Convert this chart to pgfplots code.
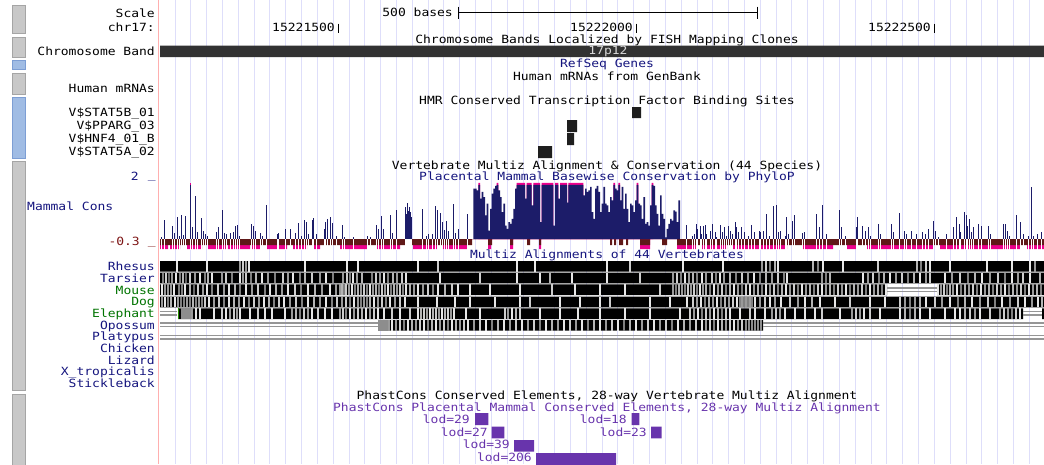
\documentclass[border=0pt]{standalone}
\usepackage{pgfplots}
\pgfplotsset{compat=1.18}
\usepackage{pgfplotstable}
\usepackage{fontspec}
\setmainfont{DejaVu Sans}
\newfontfamily\ucsc[FakeStretch=1.15]{DejaVu Sans Mono}
\newcommand{\lbl}{\ucsc\fontsize{11.3}{13}\selectfont}
\definecolor{gridc}{RGB}{222,222,250}
\definecolor{pinkc}{RGB}{255,175,175}
\definecolor{navyt}{RGB}{20,20,125}
\definecolor{navyb}{RGB}{28,28,105}
\definecolor{greent}{RGB}{0,115,0}
\definecolor{purp}{RGB}{104,52,172}
\definecolor{brownn}{RGB}{96,24,24}
\definecolor{redt}{RGB}{125,20,20}
\definecolor{btngray}{RGB}{200,200,200}
\definecolor{btngrayd}{RGB}{165,165,165}
\definecolor{btnblue}{RGB}{160,188,228}
\definecolor{btnblued}{RGB}{125,158,212}
\definecolor{bandc}{RGB}{50,50,50}
\definecolor{tfc}{RGB}{30,30,30}
\definecolor{dblc}{RGB}{150,150,150}
\newcommand{\rect}[5]{\addplot[#5] coordinates {(#1,#3) (#2,#3) (#2,#4) (#1,#4) (#1,#3)};}
\pgfplotsset{stripe/.style={scatter, only marks, mark=|, mark size=5.3pt, point meta=explicit,
     scatter/use mapped color={draw=mapped color, fill=mapped color},
     mark options={line width=1.05pt}}}

% PhyloP spikes (pixel x, value)
\pgfplotstableread[row sep=\\]{x v\\
161.7 0.08\\ 164.3 0.69\\ 172.7 0.46\\ 174 0.22\\ 177.3 0.78\\ 179 0.12\\ 181.7 0.84\\ 183.3 0.14\\ 185.7 0.81\\ 190.7 1.93\\
192.3 0.42\\ 195.7 1.53\\ 197.3 0.26\\ 201.3 0.74\\ 203.3 0.30\\ 205.7 0.18\\ 207.3 0.10\\ 216.7 0.26\\ 218.7 0.42\\ 222 1.02\\
224.3 0.20\\ 226.7 0.18\\ 230 0.22\\ 233.7 0.24\\ 235 0.46\\ 237.3 0.50\\ 239 0.12\\ 251.3 0.54\\ 253.3 0.48\\ 255.7 0.30\\
260 0.22\\ 262 0.10\\ 266.7 1.22\\ 277 0.19\\ 278.7 0.23\\ 285.7 0.34\\ 290 0.36\\ 295 0.22\\ 298.7 0.57\\ 301.7 0.12\\
304.3 0.69\\ 306 0.62\\ 308.7 0.17\\ 312 0.68\\ 313.7 0.74\\ 316 0.17\\ 324 0.36\\ 325.7 0.60\\ 327.7 0.72\\ 330 0.80\\
332.7 0.57\\ 336.7 0.12\\ 342 0.50\\ 344.3 0.08\\ 353.3 0.06\\ 367.3 0.10\\ 370 0.08\\ 376.7 0.50\\ 378.7 0.34\\ 381.3 0.81\\
383.3 0.34\\ 390 0.87\\ 392.3 0.22\\ 396.7 1.02\\ 405.7 1.14\\ 406.7 0.90\\ 407.7 1.29\\ 408.7 1.00\\ 409.7 1.14\\ 410.7 0.95\\
411.7 0.78\\ 422.3 1.08\\ 426.7 0.10\\ 428.3 0.18\\ 432.7 0.18\\ 435.3 1.17\\ 437 1.05\\ 440 0.93\\ 442 0.60\\ 444 0.32\\
446 0.66\\ 448.7 0.30\\ 453.3 1.26\\ 455 0.20\\ 458.3 0.36\\ 467 0.90\\
686.7 0.50\\ 692.7 0.12\\ 694 0.18\\ 696 0.54\\ 697.7 0.36\\ 700 0.48\\ 701.7 0.18\\ 703.3 0.48\\ 705 0.50\\ 706.7 0.18\\
710.7 0.30\\ 712.3 0.54\\ 715 0.24\\ 716.7 0.06\\ 720.7 0.50\\ 722.7 0.24\\ 724 0.42\\ 726 0.12\\ 728.3 0.46\\ 730.7 0.30\\
732.7 0.18\\ 735 0.60\\ 736.7 0.42\\ 738.3 0.24\\ 741.7 0.42\\ 744 0.24\\ 748.3 0.12\\ 751.7 0.50\\ 754 0.24\\ 759 0.30\\
760.7 0.24\\ 763.3 0.30\\ 766.7 0.90\\ 769 0.12\\ 773.3 1.17\\ 776.7 1.20\\ 778.3 0.24\\ 780 0.30\\ 785 0.12\\ 786.7 0.80\\
788.3 0.18\\ 792.7 0.66\\ 794 0.84\\ 802.3 0.22\\ 804 0.24\\ 816.7 0.90\\ 819 0.42\\ 822.7 1.20\\ 826.7 0.18\\ 839.3 1.02\\
841.7 0.42\\ 845.7 0.12\\ 856 0.42\\ 857.3 0.78\\ 862.7 0.48\\ 865 0.30\\ 868.3 0.42\\ 870.7 0.12\\ 878.3 0.54\\ 880 0.18\\
891.7 0.54\\ 893.3 0.24\\ 899.3 0.93\\ 904.3 0.30\\ 906.7 0.18\\ 911.7 0.30\\ 916.7 0.18\\ 922.7 0.24\\ 925 0.18\\ 928.3 0.36\\
933.3 0.66\\ 935 0.30\\ 938.3 0.06\\ 946.7 0.18\\ 953.3 0.42\\ 956.7 0.78\\ 959.3 0.54\\ 960.7 0.24\\ 964 0.96\\ 966 0.84\\
967.3 0.48\\ 969.3 0.72\\ 971.7 0.24\\ 973.3 0.42\\ 978.3 0.54\\ 981.7 0.48\\ 988.3 0.48\\ 990 0.18\\ 1003.3 0.54\\ 1005 0.54\\
1007.3 0.30\\ 1009.3 0.12\\ 1016 0.84\\ 1020.7 0.62\\ 1023.3 0.18\\ 1028.3 0.12\\ 1031.7 1.86\\ 1033.3 0.10\\ 1037.3 0.18\\ 1041.7 0.24\\
}\spikes

% PhyloP dense block (interval start x, value)
\pgfplotstableread[row sep=\\]{x v\\
473.3 1.80\\ 476.7 1.74\\ 478.3 1.93\\ 480 1.44\\ 481.7 1.68\\ 483.3 1.50\\ 485 0.84\\ 486.7 1.26\\ 488.3 0.30\\ 490 1.08\\
491.7 1.62\\ 493.3 1.80\\ 495 1.90\\ 496.7 1.93\\ 498.3 1.74\\ 500 1.50\\ 501.7 0.96\\ 503.3 1.26\\ 505 0.48\\ 506.7 0.36\\
508.3 0.60\\ 510 0.54\\ 511.7 0.72\\ 513.3 1.08\\ 515 1.80\\ 516.7 1.93\\ 525 1.44\\ 526.7 1.93\\ 531.7 1.20\\ 533.3 1.93\\
540 0.60\\ 541.7 1.93\\ 553.3 0.48\\ 555 1.93\\ 558.3 1.44\\ 560 1.93\\ 567 1.30\\ 568.3 1.93\\ 583.3 1.56\\ 585 1.80\\
586.7 1.68\\ 588.3 1.74\\ 590 1.86\\ 591.7 0.96\\ 593.3 0.72\\ 595 1.80\\ 596.7 1.90\\ 598.3 1.68\\ 600 0.96\\ 601.7 1.26\\
603.3 1.86\\ 605 1.26\\ 606.7 1.20\\ 608.3 0.96\\ 610 1.50\\ 611.7 1.38\\ 613.3 1.93\\ 615 1.80\\ 616.7 1.74\\ 618.3 1.93\\
620 1.38\\ 621.7 1.86\\ 623.3 1.08\\ 625 1.62\\ 626.7 1.08\\ 628.3 0.60\\ 630 1.26\\ 631.7 1.20\\ 633.3 0.96\\ 635 1.38\\
636.7 1.93\\ 638.3 1.26\\ 640 1.20\\ 641.7 0.72\\ 643.3 1.50\\ 645 0.54\\ 646.7 0.60\\ 648.3 0.48\\ 650 1.20\\ 651.7 1.93\\
653.3 1.90\\ 655 1.20\\ 656.7 0.90\\ 658.3 0.48\\ 660 1.56\\ 661.7 0.90\\ 663.3 0.72\\ 665 0.06\\ 666.7 0.36\\ 668.3 0.54\\
670 0.72\\ 671.7 0.66\\ 673.3 1.02\\ 675 0.98\\ 676.7 0.60\\ 678.3 1.38\\ 680 0\\
}\dense

% alignment stripes (x, shade: 0 black .. 1 white)
\pgfplotstableread[row sep=\\]{x s\\
177 0.9\\ 207 0.9\\ 240 0.6\\ 243 0.8\\ 246 0.6\\ 249 0.9\\ 305 0.9\\ 347 0.9\\ 358 0.9\\ 418 0.9\\ 438 0.8\\ 517 0.9\\ 535 0.9\\
607 0.9\\ 630 0.8\\ 683 0.9\\ 723 0.9\\ 762 0.6\\ 766 0.8\\ 770 0.5\\ 775 0.7\\ 778 0.9\\ 813 0.7\\ 818 0.5\\ 823 0.9\\ 843 0.9\\
878 0.8\\ 917 0.7\\ 921 0.5\\ 926 0.8\\ 930 0.9\\ 950 0.9\\ 987 0.9\\ 1012 0.9\\ 1030 0.9\\ 1035 0.6\\
}\rhesus
\pgfplotstableread[row sep=\\]{x s\\
163 .5\\ 166 .8\\ 169 .4\\ 172 .6\\ 176 .9\\ 180 .5\\ 183 .7\\ 186 .4\\ 190 .8\\ 195 .6\\ 200 .9\\ 205 .5\\ 208 .7\\ 212 .9\\
222 .6\\ 226 .8\\ 232 .5\\ 240 .9\\ 243 .6\\ 246 .8\\ 251 .5\\ 256 .7\\ 262 .9\\ 268 .6\\ 275 .5\\ 283 .8\\ 288 .6\\ 293 .9\\
300 .5\\ 305 .7\\ 312 .8\\ 320 .6\\ 326 .9\\ 333 .5\\ 343 .6\\ 347 .8\\ 350 .5\\ 353 .9\\ 357 .6\\ 362 .7\\ 372 .5\\ 376 .8\\
380 .6\\ 384 .9\\ 388 .5\\ 393 .7\\ 397 .6\\ 402 .8\\ 406 .9\\ 440 .9\\ 480 .8\\ 517 .9\\ 540 .9\\ 550 .7\\ 572 .9\\ 607 .9\\
640 .8\\ 673 .6\\ 677 .8\\ 681 .5\\ 685 .9\\ 689 .6\\ 693 .7\\ 697 .5\\ 702 .9\\ 706 .6\\ 712 .8\\ 716 .5\\ 720 .9\\ 724 .6\\
730 .7\\ 736 .5\\ 742 .8\\ 748 .6\\ 754 .9\\ 760 .5\\ 766 .7\\ 772 .6\\ 778 .8\\ 784 .5\\ 787 .9\\ 822 .6\\ 826 .5\\ 830 .7\\
863 .9\\ 868 .6\\ 873 .8\\ 879 .5\\ 884 .7\\ 890 .9\\ 896 .6\\ 902 .8\\ 908 .5\\ 914 .7\\ 920 .9\\ 926 .6\\ 930 .8\\ 945 .9\\
952 .6\\ 960 .8\\ 968 .5\\ 975 .7\\ 982 .9\\ 990 .6\\ 998 .8\\ 1005 .5\\ 1012 .9\\ 1018 .6\\ 1023 .8\\ 1030 .9\\ 1040 .7\\
}\tarsier
\pgfplotstableread[row sep=\\]{x s\\
162 .9\\ 165 .6\\ 168 .6\\ 171 .6\\ 174 .9\\ 179 .5\\ 182 .5\\ 185 .9\\ 190 .7\\ 194 .4\\ 198 .8\\ 203 .6\\ 207 .9\\ 212 .5\\
218 .8\\ 224 .6\\ 229 .9\\ 235 .7\\ 240 .5\\ 246 .9\\ 252 .6\\ 258 .8\\ 265 .5\\ 270 .9\\ 276 .7\\ 282 .6\\ 288 .9\\ 295 .8\\
301 .5\\ 308 .9\\ 315 .7\\ 322 .6\\ 330 .9\\ 336 .6\\ 340 .6\\ 342 .7\\ 344 .5\\ 346 .8\\ 349 .6\\ 352 .9\\ 355 .5\\ 358 .7\\
361 .6\\ 364 .8\\ 367 .5\\ 370 .9\\ 373 .6\\ 376 .7\\ 379 .5\\ 382 .8\\ 385 .6\\ 388 .9\\ 391 .5\\ 394 .7\\ 397 .6\\ 400 .8\\
403 .5\\ 406 .9\\ 410 .7\\ 414 .6\\ 418 .9\\ 423 .6\\ 428 .8\\ 433 .5\\ 438 .9\\ 445 .7\\ 452 .8\\ 458 .9\\ 470 .9\\ 490 .9\\
520 .9\\ 552 .8\\ 575 .9\\ 600 .9\\ 625 .9\\ 660 .8\\ 673 .6\\ 676 .5\\ 679 .7\\ 682 .6\\ 685 .5\\ 688 .8\\ 691 .6\\ 694 .8\\
697 .5\\ 700 .9\\ 703 .6\\ 706 .7\\ 710 .5\\ 714 .9\\ 718 .6\\ 722 .8\\ 726 .5\\ 730 .7\\ 734 .9\\ 738 .6\\ 742 .5\\ 746 .8\\
750 .9\\ 754 .6\\ 758 .7\\ 762 .5\\ 766 .9\\ 770 .6\\ 774 .8\\ 778 .5\\ 782 .7\\ 786 .9\\ 790 .6\\ 794 .8\\ 798 .5\\ 802 .9\\
806 .6\\ 810 .7\\ 814 .5\\ 818 .8\\ 822 .9\\ 826 .6\\ 830 .7\\ 834 .5\\ 838 .8\\ 842 .6\\ 846 .9\\ 850 .5\\ 854 .7\\ 858 .6\\
862 .8\\ 866 .5\\ 870 .9\\ 874 .6\\ 878 .7\\ 882 .5\\ 886 .9\\ 938 .9\\ 941 .6\\ 944 .8\\ 947 .5\\ 950 .7\\ 953 .6\\ 957 .9\\
961 .5\\ 965 .7\\ 969 .6\\ 973 .8\\ 977 .5\\ 981 .9\\ 985 .6\\ 989 .7\\ 993 .5\\ 997 .8\\ 1001 .6\\ 1005 .9\\ 1009 .5\\ 1013 .7\\
1017 .6\\ 1021 .8\\ 1025 .5\\ 1029 .9\\ 1033 .6\\ 1037 .7\\ 1041 .5\\
}\mouse
\pgfplotstableread[row sep=\\]{x s\\
162 .6\\ 165 .9\\ 168 .5\\ 171 .7\\ 175 .9\\ 178 .6\\ 181 .5\\ 184 .5\\ 187 .6\\ 190 .5\\ 193 .7\\ 196 .5\\ 199 .6\\ 202 .5\\
205 .8\\ 209 .9\\ 214 .6\\ 219 .8\\ 224 .5\\ 229 .9\\ 234 .7\\ 239 .6\\ 244 .9\\ 249 .5\\ 254 .8\\ 259 .6\\ 264 .9\\ 269 .7\\
274 .5\\ 279 .8\\ 284 .9\\ 290 .6\\ 296 .8\\ 302 .5\\ 308 .9\\ 314 .7\\ 320 .6\\ 326 .9\\ 332 .5\\ 337 .8\\ 342 .6\\ 346 .8\\
350 .5\\ 354 .9\\ 358 .6\\ 361 .5\\ 364 .6\\ 367 .5\\ 370 .7\\ 374 .9\\ 378 .6\\ 382 .8\\ 386 .5\\ 390 .9\\ 395 .6\\ 400 .8\\
405 .9\\ 418 .9\\ 437 .9\\ 455 .9\\ 470 .9\\ 495 .9\\ 520 .9\\ 530 .8\\ 560 .9\\ 580 .9\\ 600 .9\\ 610 .8\\ 650 .9\\ 670 .9\\
687 .9\\ 693 .8\\ 697 .6\\ 701 .9\\ 705 .5\\ 709 .7\\ 713 .6\\ 717 .9\\ 721 .5\\ 725 .7\\ 729 .6\\ 733 .8\\ 737 .9\\ 740 .5\\
742 .6\\ 744 .5\\ 746 .6\\ 748 .5\\ 750 .6\\ 752 .5\\ 755 .9\\ 760 .6\\ 765 .8\\ 770 .9\\ 775 .6\\ 781 .9\\ 790 .8\\ 798 .6\\
805 .9\\ 812 .7\\ 820 .9\\ 835 .9\\ 850 .8\\ 870 .9\\ 885 .9\\ 900 .8\\ 905 .6\\ 910 .5\\ 915 .6\\ 920 .7\\ 926 .9\\ 935 .8\\
942 .6\\ 950 .9\\ 958 .5\\ 965 .7\\ 972 .9\\ 980 .6\\ 988 .8\\ 995 .5\\ 1002 .9\\ 1010 .6\\ 1018 .8\\ 1025 .9\\ 1032 .6\\ 1038 .9\\
1042 .7\\
}\dog
\pgfplotstableread[row sep=\\]{x s\\
182 .55\\ 184 .55\\ 186 .55\\ 188 .55\\ 190 .55\\ 192 .6\\ 196 .9\\ 200 .9\\ 214 .9\\ 222 .8\\ 226 .9\\ 230 .6\\ 234 .8\\ 237 .6\\
240 .9\\ 250 .9\\ 258 .8\\ 265 .9\\ 272 .9\\ 285 .9\\ 292 .6\\ 296 .7\\ 300 .5\\ 304 .8\\ 308 .6\\ 312 .9\\ 318 .8\\ 325 .9\\
332 .9\\ 340 .6\\ 343 .8\\ 346 .5\\ 350 .9\\ 354 .6\\ 358 .8\\ 362 .7\\ 366 .9\\ 370 .6\\ 374 .8\\ 378 .9\\ 384 .9\\ 392 .8\\
400 .9\\ 410 .8\\ 418 .9\\ 421 .7\\ 424 .8\\ 427 .6\\ 430 .9\\ 433 .7\\ 436 .8\\ 439 .6\\ 442 .9\\ 445 .7\\ 448 .8\\ 451 .6\\
454 .9\\ 466 .9\\ 480 .9\\ 505 .8\\ 508 .6\\ 512 .9\\ 516 .7\\ 520 .8\\ 540 .9\\ 560 .9\\ 578 .9\\ 600 .9\\ 625 .9\\ 650 .9\\
680 .9\\ 690 .8\\ 694 .6\\ 698 .9\\ 702 .5\\ 706 .8\\ 710 .6\\ 714 .9\\ 718 .7\\ 722 .5\\ 726 .8\\ 730 .9\\ 740 .9\\ 750 .8\\
755 .9\\ 765 .9\\ 772 .6\\ 776 .8\\ 780 .6\\ 785 .9\\ 795 .9\\ 805 .9\\ 815 .9\\ 822 .8\\ 840 .9\\ 852 .6\\ 856 .8\\ 860 .6\\
864 .9\\ 870 .8\\ 880 .9\\ 900 .9\\ 905 .7\\ 910 .5\\ 915 .7\\ 920 .9\\ 930 .9\\ 945 .9\\ 955 .9\\ 960 .9\\ 965 .7\\ 970 .8\\
975 .6\\ 980 .9\\ 990 .8\\ 1000 .6\\ 1004 .8\\ 1008 .6\\ 1012 .5\\ 1016 .8\\ 1020 .9\\
}\elephant
\pgfplotstableread[row sep=\\]{x s\\
379 .55\\ 381 .55\\ 383 .55\\ 385 .55\\ 387 .55\\ 389 .6\\ 392 .9\\ 396 .6\\ 400 .8\\ 404 .5\\ 408 .9\\ 412 .7\\ 416 .6\\ 420 .8\\
424 .9\\ 428 .5\\ 432 .7\\ 436 .9\\ 440 .6\\ 444 .8\\ 448 .5\\ 452 .9\\ 456 .7\\ 460 .6\\ 464 .8\\ 468 .9\\ 474 .6\\ 480 .8\\
486 .9\\ 492 .5\\ 498 .7\\ 504 .9\\ 510 .6\\ 516 .8\\ 522 .9\\ 528 .6\\ 534 .8\\ 540 .5\\ 546 .9\\ 552 .7\\ 558 .6\\ 564 .9\\
570 .8\\ 576 .6\\ 582 .9\\ 588 .5\\ 594 .7\\ 600 .9\\ 606 .6\\ 612 .8\\ 618 .9\\ 624 .5\\ 630 .7\\ 636 .9\\ 642 .6\\ 648 .8\\
654 .9\\ 660 .6\\ 666 .8\\ 672 .5\\ 678 .9\\ 684 .7\\ 690 .6\\ 696 .8\\ 702 .9\\ 706 .6\\ 710 .8\\ 714 .5\\ 718 .9\\ 722 .7\\
726 .6\\ 730 .8\\ 734 .9\\ 738 .6\\ 742 .8\\ 746 .55\\ 749 .55\\ 752 .55\\ 755 .55\\ 758 .55\\ 761 .55\\
}\opossum

\begin{document}
\begin{tikzpicture}[
  L/.style={anchor=base east, inner sep=0pt, font=\lbl},
  C/.style={anchor=base, inner sep=0pt, font=\lbl},
  W/.style={anchor=base west, inner sep=0pt, font=\lbl}]
\begin{axis}[at={(0,0)}, anchor=south west, width=1044pt, height=464pt, scale only axis,
  xmin=0, xmax=1044, ymin=0, ymax=464, y dir=reverse,
  axis line style={draw=none}, ytick=\empty,
  xtick={175,190.82,...,1044}, xticklabels={}, major tick length=0pt,
  xmajorgrids, grid style={color=gridc, line width=1pt},
  colormap={bw}{gray(0cm)=(0); gray(1cm)=(1)}, point meta min=0, point meta max=1,
  clip=true]
% side buttons
\rect{12}{25.5}{5}{33}{fill=btngray, draw=btngrayd}
\rect{12}{25.5}{37}{57}{fill=btngray, draw=btngrayd}
\rect{12}{25.5}{60}{69}{fill=btnblue, draw=btnblued}
\rect{12}{25.5}{73}{94}{fill=btngray, draw=btngrayd}
\rect{12}{25.5}{97}{158}{fill=btnblue, draw=btnblued}
\rect{12}{25.5}{161}{390}{fill=btngray, draw=btngrayd}
\rect{12}{25.5}{394}{466}{fill=btngray, draw=btngrayd}
% red guide line
\addplot[pinkc, line width=1pt] coordinates {(158.5,0) (158.5,464)};
% scale bar
\addplot[black, line width=1pt] coordinates {(458,12.5) (757,12.5)};
\addplot[black, line width=1pt] coordinates {(458,6.5) (458,18.5)};
\addplot[black, line width=1pt] coordinates {(757,6.5) (757,18.5)};
\addplot[black, line width=1.3pt] coordinates {(338.3,23.5) (338.3,33)};
\addplot[black, line width=1.3pt] coordinates {(636.3,23.5) (636.3,33)};
\addplot[black, line width=1.3pt] coordinates {(934.3,23.5) (934.3,33)};
% chromosome band
\rect{160}{1044}{45.7}{57}{fill=bandc, draw=none}
% TFBS
\rect{632}{641}{107}{118}{fill=tfc, draw=none}
\rect{567}{577}{120}{132}{fill=tfc, draw=none}
\rect{567}{574}{133}{145}{fill=tfc, draw=none}
\rect{538}{552}{146}{158}{fill=tfc, draw=none}
% multiz alignment blocks
\rect{160}{1044}{261}{271.7}{fill=black, draw=none}
\rect{160}{1044}{272.7}{283.3}{fill=black, draw=none}
\rect{160}{887}{284.3}{295}{fill=black, draw=none}
\rect{937}{1044}{284.3}{295}{fill=black, draw=none}
\rect{160}{1044}{296.7}{307.3}{fill=black, draw=none}
\rect{178}{1023}{308.3}{319}{fill=black, draw=none}
\rect{1042}{1044}{308.3}{319}{fill=black, draw=none}
\rect{378}{763}{320}{330.7}{fill=black, draw=none}
\addplot[stripe] table[x=x, y expr=266.3, meta=s]{\rhesus};
\addplot[stripe] table[x=x, y expr=278.0, meta=s]{\tarsier};
\addplot[stripe] table[x=x, y expr=289.7, meta=s]{\mouse};
\addplot[stripe] table[x=x, y expr=302.0, meta=s]{\dog};
\addplot[stripe] table[x=x, y expr=313.7, meta=s]{\elephant};
\addplot[stripe] table[x=x, y expr=325.3, meta=s]{\opossum};
% gaps (double lines)
\addplot[dblc, line width=1.2pt] coordinates {(887,288) (937,288)};
\addplot[dblc, line width=1.2pt] coordinates {(887,291.5) (937,291.5)};
\addplot[dblc, line width=1.2pt] coordinates {(160,311.5) (177,311.5)};
\addplot[dblc, line width=1.2pt] coordinates {(160,315) (177,315)};
\addplot[dblc, line width=1.2pt] coordinates {(1023,311.5) (1042,311.5)};
\addplot[dblc, line width=1.2pt] coordinates {(1023,315) (1042,315)};
\addplot[dblc, line width=1.2pt] coordinates {(160,323) (378,323)};
\addplot[dblc, line width=1.2pt] coordinates {(160,326.5) (378,326.5)};
\addplot[dblc, line width=1.2pt] coordinates {(763,323) (1044,323)};
\addplot[dblc, line width=1.2pt] coordinates {(763,326.5) (1044,326.5)};
\addplot[dblc, line width=1.2pt] coordinates {(160,335.5) (1044,335.5)};
\addplot[dblc, line width=1.2pt] coordinates {(160,339) (1044,339)};
\addplot[greent!80!lime, line width=1.6pt] coordinates {(178.5,308.3) (178.5,319)};
% phastCons elements
\rect{475}{488.3}{413}{425}{fill=purp, draw=none}
\rect{491.7}{504.3}{426.7}{438.3}{fill=purp, draw=none}
\rect{514}{534}{440}{451.5}{fill=purp, draw=none}
\rect{536}{616}{453}{466}{fill=purp, draw=none}
\rect{631.7}{639.3}{413}{425}{fill=purp, draw=none}
\rect{651}{661.7}{426.7}{438.3}{fill=purp, draw=none}
% texts
\node[L] at (axis cs:155,17.3) {Scale};
\node[L] at (axis cs:155,31.7) {chr17:};
\node[L] at (axis cs:453,16) {500 bases};
\node[L] at (axis cs:335,31.7) {15221500};
\node[L] at (axis cs:633,31.7) {15222000};
\node[L] at (axis cs:931,31.7) {15222500};
\node[C] at (axis cs:607,43.3) {Chromosome Bands Localized by FISH Mapping Clones};
\node[L] at (axis cs:155,55) {Chromosome Band};
\node[C, text=black!15] at (axis cs:608,54.3) {17p12};
\node[C, text=navyt] at (axis cs:607,67.3) {RefSeq Genes};
\node[C] at (axis cs:607,80) {Human mRNAs from GenBank};
\node[L] at (axis cs:155,92.3) {Human mRNAs};
\node[C] at (axis cs:607,104.3) {HMR Conserved Transcription Factor Binding Sites};
\node[L] at (axis cs:155,116.5) {V\$STAT5B\_01};
\node[L] at (axis cs:155,129.7) {V\$PPARG\_03};
\node[L] at (axis cs:155,142.7) {V\$HNF4\_01\_B};
\node[L] at (axis cs:155,155.5) {V\$STAT5A\_02};
\node[C] at (axis cs:607,169.3) {Vertebrate Multiz Alignment \& Conservation (44 Species)};
\node[C, text=navyt] at (axis cs:607,180.7) {Placental Mammal Basewise Conservation by PhyloP};
\node[L, text=navyt] at (axis cs:139,180) {2};
\node[L, text=navyt] at (axis cs:156,178.5) {\_};
\node[W, text=navyt] at (axis cs:27,210) {Mammal Cons};
\node[L, text=redt] at (axis cs:140,245) {-0.3};
\node[L, text=redt] at (axis cs:156,244.5) {\_};
\node[C, text=navyt] at (axis cs:607,258.3) {Multiz Alignments of 44 Vertebrates};
\node[L, text=navyt] at (axis cs:155,270.7) {Rhesus};
\node[L, text=navyt] at (axis cs:155,282.3) {Tarsier};
\node[L, text=greent] at (axis cs:155,294) {Mouse};
\node[L, text=greent] at (axis cs:155,305.7) {Dog};
\node[L, text=greent] at (axis cs:155,317.4) {Elephant};
\node[L, text=navyt] at (axis cs:155,329) {Opossum};
\node[L, text=navyt] at (axis cs:155,340.7) {Platypus};
\node[L, text=navyt] at (axis cs:155,352.4) {Chicken};
\node[L, text=navyt] at (axis cs:155,364) {Lizard};
\node[L, text=navyt] at (axis cs:155,375.7) {X\_tropicalis};
\node[L, text=navyt] at (axis cs:155,387.4) {Stickleback};
\node[C] at (axis cs:607,399) {PhastCons Conserved Elements, 28-way Vertebrate Multiz Alignment};
\node[C, text=purp] at (axis cs:607,411) {PhastCons Placental Mammal Conserved Elements, 28-way Multiz Alignment};
\node[L, text=purp] at (axis cs:470,423.3) {lod=29};
\node[L, text=purp] at (axis cs:488,436) {lod=27};
\node[L, text=purp] at (axis cs:510,448.7) {lod=39};
\node[L, text=purp] at (axis cs:532,461.7) {lod=206};
\node[L, text=purp] at (axis cs:627,423.3) {lod=18};
\node[L, text=purp] at (axis cs:647,436) {lod=23};
\end{axis}
% PhyloP conservation track
\begin{axis}[at={(160pt,214.9pt)}, anchor=south west, width=884pt, height=66.1pt, scale only axis,
  xmin=160, xmax=1044, ymin=-0.36, ymax=2, hide axis, clip=true]
\addplot[ybar interval, fill=magenta, draw=none] coordinates {
(160,-0.36) (168,0) (170,-0.36) (180,0) (187,-0.36) (202,0) (208,-0.36) (227,0) (228,-0.36) (250,0)
(252,-0.36) (260,0) (267,-0.36) (287,0) (293,-0.36) (307,0) (312,-0.36) (320,0) (340,-0.36) (367,0)
(377,-0.36) (400,0) (413,-0.36) (437,0) (443,-0.36) (467,0) (488,-0.36) (491,0) (510,-0.36) (513,0)
(539,-0.36) (541,0) (640,-0.36) (650,0) (677,-0.36) (697,0) (700,-0.36) (727,0) (733,-0.36) (787,0)
(803,-0.36) (833,0) (847,-0.36) (857,0) (867,-0.36) (933,0) (940,-0.36) (1020,0) (1027,-0.36) (1044,0)};
\addplot[ybar interval, fill=brownn, draw=none] coordinates {
(160,-0.22) (472,0) (488,-0.22) (492,0) (510,-0.22) (513,0) (527,-0.22) (530,0) (539,-0.22) (541,0)
(610,-0.22) (612,0) (614,-0.22) (616,0) (619,-0.22) (623,0) (626,-0.22) (628,0) (640,-0.22) (650,0)
(662,-0.22) (667,0) (677,-0.22) (1044,0)};
\addplot[ycomb, white, line width=0.9pt] table[x=x, y expr=-0.5]{\spikes};
\addplot[ybar interval, fill=magenta, draw=none] coordinates {
(478.3,2) (480,0) (496.7,2) (498.3,0) (516.7,2) (525,0) (526.7,2) (531.7,0) (533.3,2) (540,0)
(541.7,2) (553.3,0) (555,2) (558.3,0) (560,2) (567,0) (568.3,2) (583.3,0) (613.3,2) (615,0)
(618.3,2) (620,0) (636.7,2) (638.3,0) (651.7,2) (653.3,0)};
\addplot[ybar interval, fill=navyb, draw=none] table[x=x, y=v]{\dense};
\addplot[ycomb, magenta, line width=1pt] coordinates {(190.7,2)};
\addplot[ycomb, navyb, line width=1pt] table[x=x, y=v]{\spikes};
\end{axis}
\pgfresetboundingbox
\useasboundingbox (0,0) rectangle (1044pt,464pt);
\end{tikzpicture}
\end{document}
